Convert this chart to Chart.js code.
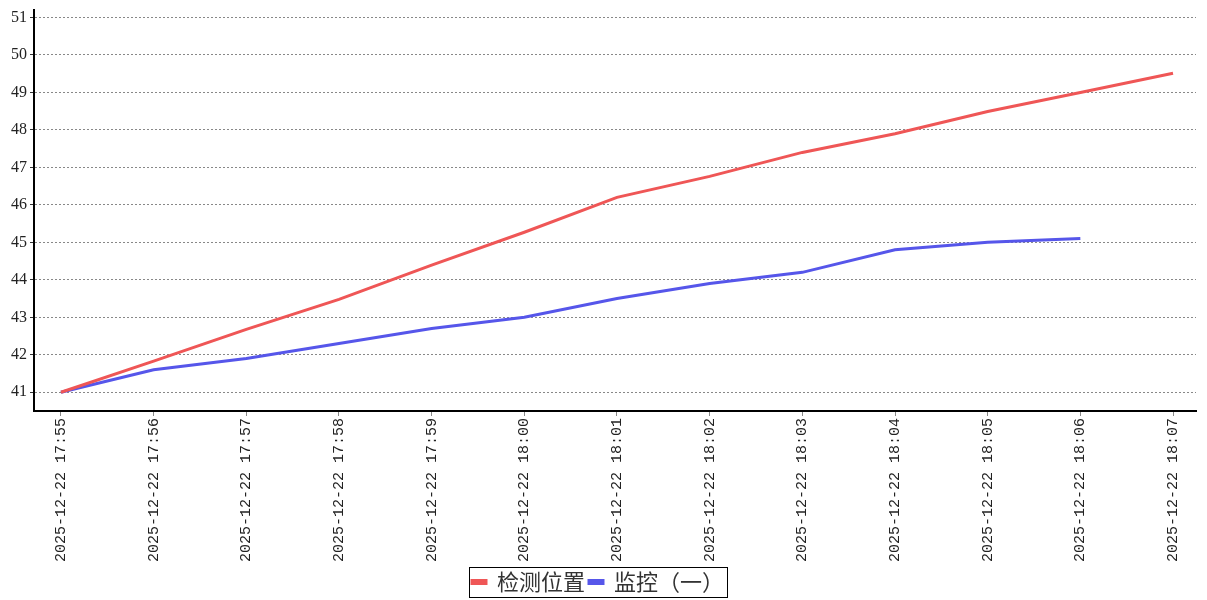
<!DOCTYPE html>
<html>
<head>
<meta charset="utf-8">
<script src="https://cdn.jsdelivr.net/npm/chart.js@4/dist/chart.umd.min.js"></script>
<style>
  html, body { margin: 0; padding: 0; background: #fff; }
  canvas { display: block; }
</style>
</head>
<body>
<canvas id="chart" width="1207" height="600"></canvas>
<script>
// time labels along the bottom
var times = ['2025-12-22 17:55', '2025-12-22 17:56', '2025-12-22 17:57', '2025-12-22 17:58',
  '2025-12-22 17:59', '2025-12-22 18:00', '2025-12-22 18:01', '2025-12-22 18:02',
  '2025-12-22 18:03', '2025-12-22 18:04', '2025-12-22 18:05', '2025-12-22 18:06',
  '2025-12-22 18:07'];

var seriesNames = ['检测位置', '监控（一）'];
var positionValues = [41.0, 41.83, 42.68, 43.48, 44.39, 45.27, 46.2, 46.76, 47.4, 47.9, 48.49, 49.0, 49.51];
var monitorValues = [41.0, 41.6, 41.9, 42.3, 42.7, 43.0, 43.5, 43.9, 44.2, 44.8, 45.0, 45.1, null];

var yTicks = [41, 42, 43, 44, 45, 46, 47, 48, 49, 50, 51];

var red = '#ef5656';
var blue = '#5656ea';

function toPoints(vals) {
  return vals.map(function (v, i) { return { x: i, y: v }; });
}

// box around the legend items
var legendBox = {
  id: 'legendBox',
  afterDraw: function (chart) {
    var boxes = chart.legend.legendHitBoxes;
    if (!boxes || !boxes.length) return;
    var l = Infinity, r = -Infinity, t = Infinity, b = -Infinity;
    boxes.forEach(function (h) {
      l = Math.min(l, h.left); r = Math.max(r, h.left + h.width);
      t = Math.min(t, h.top); b = Math.max(b, h.top + h.height);
    });
    var ctx = chart.ctx;
    ctx.save();
    ctx.strokeStyle = '#000';
    ctx.lineWidth = 1;
    ctx.strokeRect(Math.round(l - 3) + 0.5, Math.round(t - 4) + 0.5, Math.round(r - l + 6), Math.round(b - t + 8));
    ctx.restore();
  }
};

var ctx = document.getElementById('chart').getContext('2d');
var myChart = new Chart(ctx, {
  type: 'line',
  data: {
    datasets: [
      {
        label: seriesNames[0],
        data: toPoints(positionValues),
        borderColor: red,
        backgroundColor: red,
        borderWidth: 3,
        pointRadius: 0,
        tension: 0
      },
      {
        label: seriesNames[1],
        data: toPoints(monitorValues),
        borderColor: blue,
        backgroundColor: blue,
        borderWidth: 3,
        pointRadius: 0,
        tension: 0
      }
    ]
  },
  options: {
    responsive: false,
    animation: false,
    layout: { padding: { top: 10, right: 11, left: 0, bottom: -3 } },
    plugins: {
      tooltip: { enabled: false },
      legend: {
        position: 'bottom',
        labels: {
          font: { family: "'Noto Sans CJK SC'", size: 22 },
          color: '#333',
          boxWidth: 14,
          boxHeight: 3,
          padding: 4
        }
      }
    },
    scales: {
      x: {
        type: 'linear',
        min: -0.291,
        max: 12.248,
        afterBuildTicks: function (s) {
          s.ticks = times.map(function (_, i) { return { value: i }; });
        },
        afterFit: function (s) { s.height = 156; s.paddingLeft = 0; s.paddingRight = 0; },
        ticks: {
          autoSkip: false,
          minRotation: 90,
          maxRotation: 90,
          padding: 2,
          color: '#222',
          font: { family: "'Liberation Mono'", size: 15 },
          callback: function (v) { return times[v]; }
        },
        grid: { drawOnChartArea: false, tickLength: 5, color: '#888' },
        border: { color: '#000', width: 2 }
      },
      y: {
        min: 40.5,
        max: 51.2,
        afterBuildTicks: function (s) {
          s.ticks = yTicks.map(function (v) { return { value: v }; });
        },
        afterFit: function (s) { s.width = 34; s.paddingTop = 0; s.paddingBottom = 0; },
        ticks: {
          padding: 3,
          color: '#222',
          font: { family: "'Liberation Serif'", size: 16 }
        },
        grid: { color: '#888', tickLength: 4, tickColor: '#333' },
        border: { color: '#000', width: 2, dash: [2, 2] }
      }
    }
  },
  plugins: [legendBox]
});
</script>
</body>
</html>
